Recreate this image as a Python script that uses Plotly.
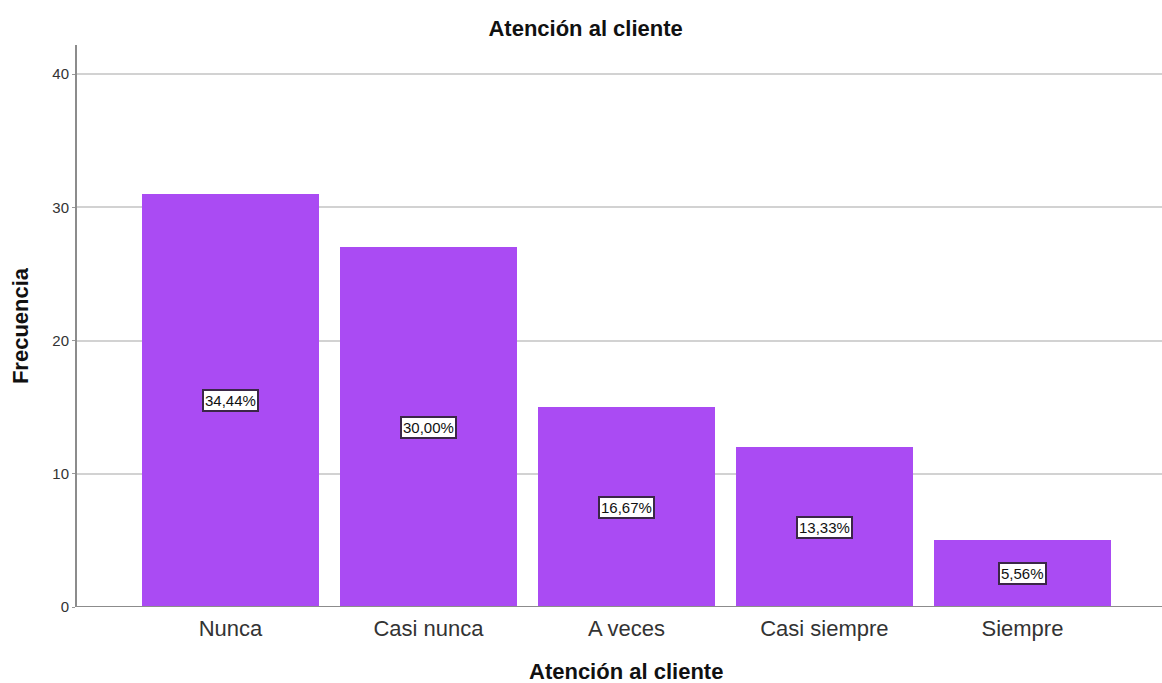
import plotly.graph_objects as go

# Frecuencias por categoría de la variable "Atención al cliente"
categorias = ["Nunca", "Casi nunca", "A veces", "Casi siempre", "Siempre"]
frecuencias = [31, 27, 15, 12, 5]
porcentajes = ["34,44%", "30,00%", "16,67%", "13,33%", "5,56%"]
ticks_y = [0, 10, 20, 30, 40]

color_barra = "#AA4BF3"
fuente = "Liberation Sans, Arial, sans-serif"

fig = go.Figure()
fig.add_trace(go.Bar(
    x=list(range(len(categorias))),
    y=frecuencias,
    width=0.894,
    marker=dict(color=color_barra, line=dict(width=0)),
    hoverinfo="skip",
))

# Etiquetas de porcentaje en el centro de cada barra
for i, (f, p) in enumerate(zip(frecuencias, porcentajes)):
    fig.add_annotation(
        x=i, y=f / 2, text=p, showarrow=False,
        font=dict(family=fuente, size=15, color="#111111"),
        bgcolor="white", bordercolor="#3b2748", borderwidth=2, borderpad=1,
    )

# Título del eje X, centrado bajo las barras
fig.add_annotation(
    x=2, xref="x", y=-0.114, yref="paper", yanchor="middle",
    text="<b>Atención al cliente</b>", showarrow=False,
    font=dict(family=fuente, size=22, color="#111111"),
)

fig.update_layout(
    width=1162, height=683,
    margin=dict(l=77, r=0, t=45, b=76),
    paper_bgcolor="white", plot_bgcolor="white",
    showlegend=False,
    font=dict(family=fuente, color="#222222"),
    title=dict(text="<b>Atención al cliente</b>", x=0.504, xanchor="center",
               y=0.959, yanchor="middle",
               font=dict(family=fuente, size=22, color="#111111")),
    bargap=0,
)

fig.update_xaxes(
    range=[-0.775, 4.705],
    tickmode="array", tickvals=list(range(len(categorias))), ticktext=categorias,
    tickfont=dict(family=fuente, size=22, color="#333333"),
    ticks="", ticklabelstandoff=6, showgrid=False, zeroline=False,
    showline=False,
)

fig.update_yaxes(
    range=[0, 42.18],
    tickmode="array", tickvals=ticks_y,
    tickfont=dict(family=fuente, size=15, color="#333333"),
    ticks="outside", ticklen=3, tickcolor="#999999",
    showgrid=True, gridcolor="#D2D2D2", gridwidth=2,
    zeroline=False,
    showline=True, linecolor="#8c8c8c", linewidth=2,
    title=dict(text="<b>Frecuencia</b>", standoff=18,
               font=dict(family=fuente, size=22, color="#111111")),
)

# Línea base del eje X
fig.add_shape(type="line", xref="paper", yref="y", x0=0, x1=1, y0=0, y1=0,
              line=dict(color="#8c8c8c", width=2))

fig.write_html("out.html")
